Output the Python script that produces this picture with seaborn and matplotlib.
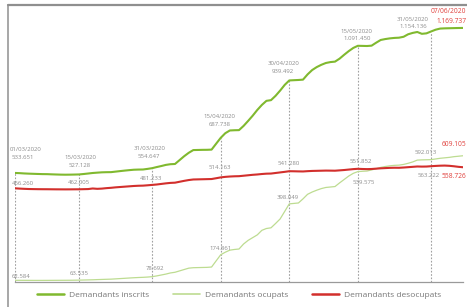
import numpy as np
import pandas as pd
import matplotlib
matplotlib.use("Agg")
import matplotlib.pyplot as plt
from matplotlib.lines import Line2D
import seaborn as sns

# ---------------- data (thousands) ----------------
dates = pd.date_range("2020-03-01", "2020-06-07", freq="D")

inscrits = [
    533.651, 532.8, 531.5, 530.6, 529.9, 529.2, 528.6, 528.4, 527.6, 526.9,
    526.3, 526.0, 526.2, 526.6, 527.128, 529.0, 531.2, 533.5, 535.0, 536.4,
    537.0, 537.2, 539.5, 541.8, 544.0, 546.0, 547.8, 548.5, 548.8, 551.5,
    554.647, 559.5, 564.0, 569.0, 572.0, 573.0, 590.0, 607.0, 622.0, 634.0,
    634.5, 635.0, 635.2, 636.0, 662.0, 687.738, 708.0, 720.0, 721.0, 721.5,
    740.0, 762.0, 785.0, 810.0, 832.0, 850.0, 853.0, 872.0, 895.0, 920.0,
    939.492, 940.5, 941.5, 943.0, 966.0, 985.0, 998.0, 1008.0, 1016.0, 1020.0,
    1022.0, 1035.0, 1052.0, 1068.0, 1082.0, 1091.450, 1091.0, 1090.5, 1092.0, 1105.0,
    1117.0, 1121.0, 1124.0, 1126.0, 1127.0, 1131.0, 1142.0, 1148.0, 1152.0, 1144.0,
    1146.0, 1154.136, 1162.0, 1167.0, 1168.0, 1168.5, 1169.0, 1169.5, 1169.737,
]

ocupats = [
    62.584, 62.6, 62.5, 62.4, 62.3, 62.3, 62.3, 62.4, 62.5, 62.6,
    62.7, 62.8, 62.9, 63.2, 63.535, 64.0, 64.5, 65.0, 65.8, 66.5,
    67.2, 67.8, 69.0, 70.3, 71.5, 72.8, 74.0, 75.0, 75.8, 77.0,
    78.692, 82.0, 86.0, 90.0, 95.0, 98.0, 104.0, 110.0, 116.0, 118.0,
    118.5, 119.0, 119.5, 121.0, 148.0, 174.861, 186.0, 195.0, 198.0, 200.0,
    222.0, 238.0, 250.0, 262.0, 282.0, 290.0, 293.0, 312.0, 332.0, 365.0,
    398.049, 400.0, 402.0, 420.0, 440.0, 450.0, 458.0, 465.0, 470.0, 472.0,
    474.0, 490.0, 505.0, 520.0, 532.0, 539.575, 541.0, 542.0, 547.0, 552.0,
    558.0, 562.0, 565.0, 567.0, 568.0, 571.0, 576.0, 582.0, 590.0, 591.0,
    591.5, 592.013, 595.0, 598.0, 600.0, 602.0, 605.0, 607.0, 609.105,
]

desocupats = [
    466.260, 465.0, 464.0, 463.2, 462.8, 462.5, 462.3, 462.2, 462.0, 461.8,
    461.7, 461.6, 461.7, 461.9, 462.005, 462.5, 463.0, 465.5, 464.0, 465.0,
    467.0, 468.5, 470.5, 472.0, 473.5, 475.0, 476.5, 477.5, 478.0, 479.5,
    481.233, 483.0, 485.5, 488.0, 490.0, 491.0, 495.0, 499.0, 502.5, 505.0,
    505.5, 506.0, 506.5, 507.0, 510.5, 514.163, 516.5, 518.0, 519.0, 519.5,
    521.5, 523.5, 525.5, 527.0, 529.0, 530.5, 531.0, 533.5, 536.0, 538.5,
    541.280, 541.0, 540.5, 540.2, 541.5, 542.5, 543.0, 543.5, 544.0, 543.8,
    543.5, 545.0, 546.5, 548.5, 550.5, 551.852, 551.0, 550.5, 551.0, 552.5,
    554.0, 555.0, 556.0, 556.5, 556.3, 557.5, 559.0, 560.5, 562.0, 561.5,
    561.8, 563.222, 564.5, 565.5, 566.0, 565.0, 563.0, 560.5, 558.726,
]

series_names = ["Demandants inscrits", "Demandants ocupats", "Demandants desocupats"]
label_dates = ["01/03/2020", "15/03/2020", "31/03/2020", "15/04/2020",
               "30/04/2020", "15/05/2020", "31/05/2020", "07/06/2020"]
label_inscrits = ["533.651", "527.128", "554.647", "687.738",
                  "939.492", "1.091.450", "1.154.136", "1.169.737"]
label_desocupats = ["466.260", "462.005", "481.233", "514.163",
                    "541.280", "551.852", "563.222", "558.726"]
label_ocupats = ["62.584", "63.535", "78.692", "174.861",
                 "398.049", "539.575", "592.013", "609.105"]

# ---------------- build frame ----------------
day = np.arange(len(dates))
df = pd.DataFrame({
    "day": np.concatenate([day, day, day]),
    "value": np.concatenate([np.array(inscrits), np.array(ocupats), np.array(desocupats)]) * 1000,
    "serie": np.repeat(series_names, len(dates)),
})

colors = {"Demandants inscrits": "#80b92f",
          "Demandants ocupats": "#bddc91",
          "Demandants desocupats": "#d22f2c"}
widths = {"Demandants inscrits": 1.5,
          "Demandants ocupats": 0.9,
          "Demandants desocupats": 1.5}

sns.set_style("white")
plt.rcParams["font.family"] = ["Open Sans", "DejaVu Sans"]

W, H = 467, 307
fig = plt.figure(figsize=(W / 100, H / 100), dpi=100)
ax = fig.add_axes([15 / W, (H - 282) / H, 448 / W, 277 / H])

for name in series_names:
    sub = df[df["serie"] == name]
    sns.lineplot(data=sub, x="day", y="value", ax=ax, color=colors[name],
                 lw=widths[name], legend=False, zorder=3)

ax.set_xlim(0, 98)
ax.set_ylim(55300, 1270400)
ax.set_xlabel("")
ax.set_ylabel("")
ax.set_xticks([])
ax.set_yticks([])
for s in ["top", "right", "left"]:
    ax.spines[s].set_visible(False)
ax.spines["bottom"].set_color("#9a9a9a")
ax.spines["bottom"].set_linewidth(0.9)

# vertical dashed guides at labelled dates
ymin = ax.get_ylim()[0]
label_idx = [list(dates.strftime("%d/%m/%Y")).index(d) for d in label_dates]
for i in label_idx[:-1]:
    ax.vlines(day[i], ymin, inscrits[i] * 1000, colors="#a0a0a0",
              linestyles=(0, (1.5, 1.5)), lw=0.8, zorder=2)

# annotations (offsets in pixels)
grey = "#8c8c8c"
red = "#e0403c"
fs = 4.3
ins_date_off = [(-5, 23, "left"), (1, 17, "center"), (-3, 20, "center"), (-1, 21, "center"),
                (-6, 17, "center"), (-1, 14, "center"), (-18, 12.5, "center"), (3, 16, "right")]
ins_val_off = [(-3, 15, "left"), (1, 9, "center"), (-3, 12, "center"), (-1, 13, "center"),
               (-6, 9, "center"), (-1, 7, "center"), (-18, 5.5, "center"), (3, 6, "right")]
des_off = [(-3, 5.3, "left"), (0, 6.3, "center"), (-1, 6.9, "center"), (-1, 9.4, "center"),
           (-1, 8.2, "center"), (3, 7.8, "center"), (-2, -8.8, "center"), (3, -8.8, "right")]
ocu_off = [(-3, 4.3, "left"), (0, 7.1, "center"), (3, 7.7, "center"), (0, 6.7, "center"),
           (-2, 5.9, "center"), (6, -10.4, "center"), (-5, 6.7, "center"), (3, 10.8, "right")]

def note(txt, x, y, off, color, size=fs):
    ax.annotate(txt, xy=(x, y), xytext=(off[0], off[1]), textcoords="offset pixels",
                ha=off[2], va="center", fontsize=size, color=color,
                annotation_clip=False, zorder=5)

n = len(label_idx)
for k, i in enumerate(label_idx):
    last = k == n - 1
    sz = 4.8 if last else fs
    col = red if last else grey
    note(label_dates[k], day[i], inscrits[i] * 1000, ins_date_off[k], col, sz)
    note(label_inscrits[k], day[i], inscrits[i] * 1000, ins_val_off[k], col, sz)
    note(label_desocupats[k], day[i], desocupats[i] * 1000, des_off[k], col, sz)
    note(label_ocupats[k], day[i], ocupats[i] * 1000, ocu_off[k], col, sz)

# legend
handles = [Line2D([], [], color=colors[nm], lw=widths[nm] + 0.3) for nm in series_names]
fig.legend(handles, series_names, loc="center", bbox_to_anchor=(239 / W, 1 - 295 / H),
           ncol=3, frameon=False, fontsize=6, handlelength=3.2, handletextpad=0.6,
           columnspacing=2.9, labelcolor="#777777")

# outer frame of the original box
frame_col = "#8f8f8f"
fig.add_artist(Line2D([8 / W, 8 / W], [0, (H - 5) / H], color=frame_col, lw=1.1,
                      transform=fig.transFigure))
fig.add_artist(Line2D([8 / W, 1], [(H - 5) / H, (H - 5) / H], color=frame_col, lw=1.6,
                      transform=fig.transFigure))

fig.savefig("out.png", dpi=100)
